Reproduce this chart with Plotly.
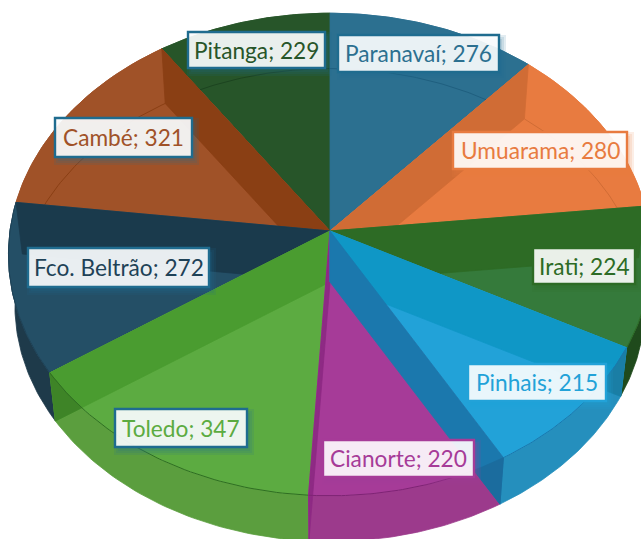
import math
import plotly.graph_objects as go

# ---- data ----
categories = ["Paranavaí", "Umuarama", "Irati", "Pinhais", "Cianorte", "Toledo", "Fco. Beltrão", "Cambé", "Pitanga"]
values = [276, 280, 224, 215, 220, 347, 272, 321, 229]

# ---- styles per slice ----
top_colors = ["#2C7090", "#E87B40", "#357A3B", "#22A2D8", "#A63B98", "#5CAB41", "#244F66", "#A05228", "#275529"]
band_colors = ["#2C7090", "#E87B40", "#1F4A1C", "#258FBD", "#9C3A8C", "#5B9E3E", "#1E3A4A", "#A05228", "#275529"]
arc_colors = ["#1F5F7F", "#D06C35", "#2D6B25", "#1B78AD", "#7E2474", "#2F6E22", "#1E4257", "#8A3F14", "#1C4420"]
text_colors = ["#2C7090", "#E87B40", "#2D6B25", "#22A2D8", "#A63B98", "#5CAB41", "#1E4257", "#A05228", "#275529"]
border_colors = ["#1F6C8F", "#E87B40", "#2D6B25", "#22A2D8", "#A63B98", "#1F6C8F", "#1F6C8F", "#1F6C8F", "#1F6C8F"]
paint_order = [8, 0, 7, 1, 6, 2, 5, 4, 3]
# slice -> list of (edge, wall colour, tip colour, tip direction)
walls = {
    7: [("end", "#8A3F14", None, 0)],
    1: [("start", "#D06C35", None, 0)],
    6: [("end", "#1A3A4C", None, 0)],
    2: [("start", "#2D6B25", None, 0)],
    5: [("end", "#4A9C30", "#3E8427", -1)],
    4: [("end", "#8E2A84", None, 0)],
    3: [("start", "#0F97C6", "#1A7EA5", 1), ("end", "#1B78AD", "#1B6C9E", 1)],
}
label_boxes = [(338, 35, 499, 72), (453, 132, 627, 169), (533, 248, 635, 284), (468, 364, 606, 401),
               (323, 440, 474, 477), (115, 409, 247, 447), (28, 248, 209, 287), (55, 118, 192, 157), (188, 32, 325, 68)]

W, H = 641, 539
CX, TOP_CY, BASE_CY = 330, 231, 282
RX, RY, PERSP, BASE_SCALE = 320, 239, 0.0973, 0.98


def rim(deg, cy=TOP_CY, s=1.0):
    t = math.radians(deg)
    w = 1 + PERSP * math.cos(t)
    return CX + s * RX * math.sin(t) / w, cy - s * RY * math.cos(t) / w


def top(deg):
    return rim(deg)


def base(deg):
    return rim(deg, BASE_CY, BASE_SCALE)


def arc(fn, a, b, n=50):
    return [fn(a + (b - a) * i / n) for i in range(n + 1)]


fig = go.Figure()


def poly(pts, fill, line=None, lw=0.8):
    pts = list(pts) + [pts[0]]
    fig.add_trace(go.Scatter(x=[p[0] for p in pts], y=[p[1] for p in pts], mode="lines", fill="toself",
                             fillcolor=fill, line=dict(color=line or fill, width=lw), hoverinfo="skip", showlegend=False))


def curve(pts, color, lw=1.0):
    fig.add_trace(go.Scatter(x=[p[0] for p in pts], y=[p[1] for p in pts], mode="lines",
                             line=dict(color=color, width=lw), hoverinfo="skip", showlegend=False))


total = sum(values)
edges = [0.0]
for v in values:
    edges.append(edges[-1] + 360.0 * v / total)

# outer side walls first
for i in [8, 0, 7, 1, 6, 2, 5, 4, 3]:
    a, b = edges[i], edges[i + 1]
    poly(arc(top, a, b) + arc(base, b, a), band_colors[i])


def tip(deg, direction):
    """Part of a cut wall lying outside the top rim."""
    bx, by = base(deg)
    cx, cy = CX, BASE_CY
    def side(p):
        return (p[0] - bx) * (cy - by) - (p[1] - by) * (cx - bx)
    s0 = side(top(deg))
    d = deg
    for _ in range(600):
        d += direction * 0.1
        if side(top(d)) * s0 <= 0:
            break
    return arc(top, deg, d, 20) + [base(deg)]


for i in paint_order:
    a, b = edges[i], edges[i + 1]
    poly([(CX, TOP_CY)] + arc(top, a, b), top_colors[i])
    for edge, col, tip_col, direction in walls.get(i, []):
        e = a if edge == "start" else b
        poly([(CX, TOP_CY), top(e), base(e), (CX, BASE_CY)], col)
        if tip_col:
            poly(tip(e, direction), tip_col)
    if 90 < (a + b) / 2 < 270:
        curve(arc(top, a, b), arc_colors[i])
    else:
        curve(arc(base, a, b), arc_colors[i])


def rgba(hex_color, alpha):
    r, g, b = int(hex_color[1:3], 16), int(hex_color[3:5], 16), int(hex_color[5:7], 16)
    return f"rgba({r},{g},{b},{alpha})"


shapes = []
annotations = []
for name, val, (x0, y0, x1, y1), tc, bc in zip(categories, values, label_boxes, text_colors, border_colors):
    for grow in (4, 2, 0):
        shapes.append(dict(type="rect", xref="x", yref="y", x0=x0 + 3 - grow, y0=y0 + 4 - grow,
                           x1=x1 + 3 + grow, y1=y1 + 4 + grow,
                           fillcolor=rgba(bc, 0.13), line=dict(width=0), layer="above"))
    # an opaque white under-layer would hide the slice tint, so the box stays translucent
    shapes.append(dict(type="rect", xref="x", yref="y", x0=x0, y0=y0, x1=x1, y1=y1,
                       fillcolor="rgba(255,255,255,0.9)", line=dict(color=bc, width=2.4), layer="above"))
    annotations.append(dict(xref="x", yref="y", x=(x0 + x1) / 2, y=(y0 + y1) / 2, text=f"{name}; {val}",
                            showarrow=False, font=dict(family="Lato", size=22.7, color=tc),
                            xanchor="center", yanchor="middle"))

fig.update_layout(width=W, height=H, margin=dict(l=0, r=0, t=0, b=0), autosize=False,
                  paper_bgcolor="white", plot_bgcolor="white", showlegend=False,
                  xaxis=dict(range=[0, W], visible=False, fixedrange=True),
                  yaxis=dict(range=[H, 0], visible=False, fixedrange=True),
                  shapes=shapes, annotations=annotations)
fig.write_html("out.html", config={"displayModeBar": False},
               post_script="document.body.style.margin='0';document.body.style.overflow='hidden';")
